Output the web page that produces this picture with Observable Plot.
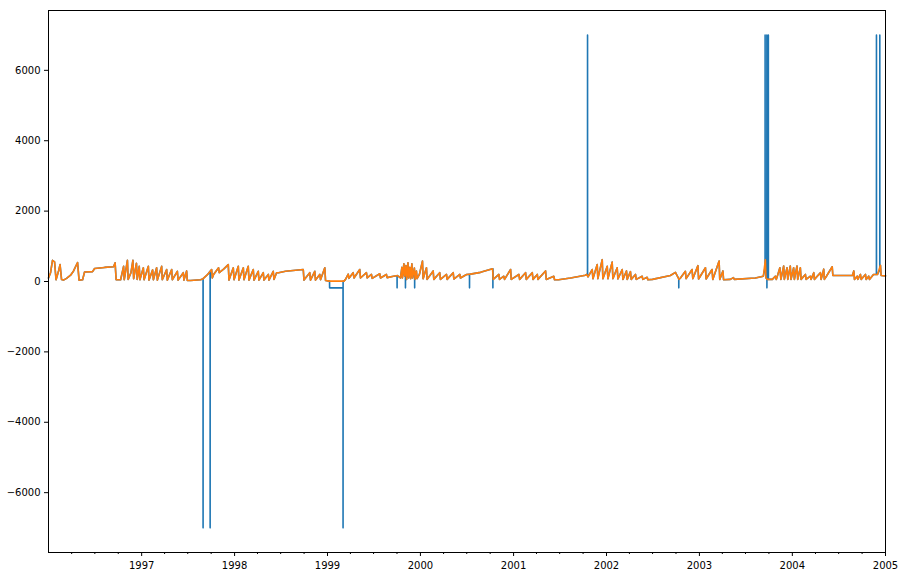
<!DOCTYPE html>
<html><head><meta charset="utf-8">
<script src="https://cdn.jsdelivr.net/npm/d3@7"></script>
<script src="https://cdn.jsdelivr.net/npm/@observablehq/plot@0.6"></script>
<style>body{margin:0;background:#fff}</style>
</head><body><div id="chart"></div>
<script>
// Cleaned series (orange): time as decimal year, value
const orangeT = [
1996.000,1996.022,1996.043,1996.065,1996.081,1996.108,1996.124,1996.140,1996.161,1996.194,1996.237,1996.269,1996.312,1996.328,1996.366,1996.387,1996.473,1996.495,1996.602,1996.699,1996.715,1996.726,1996.774,1996.806,1996.813,1996.847,1996.855,1996.885,1996.906,1996.914,1996.944,1996.952,1996.974,1996.981,
1997.018,1997.026,1997.072,1997.079,1997.118,1997.126,1997.161,1997.169,1997.215,1997.222,1997.269,1997.276,1997.323,1997.330,1997.384,1997.392,1997.448,1997.455,1997.484,1997.491,1997.527,1997.634,1997.656,1997.710,1997.753,1997.760,1997.774,1997.828,1997.835,1997.882,1997.932,1997.940,1997.986,1997.994,
1998.040,1998.047,1998.094,1998.101,1998.147,1998.155,1998.201,1998.209,1998.255,1998.262,1998.309,1998.316,1998.363,1998.370,1998.416,1998.424,1998.452,1998.473,1998.548,1998.739,1998.747,1998.809,1998.817,1998.863,1998.871,1998.917,1998.925,1998.971,1998.979,
1999.016,1999.177,1999.194,1999.223,1999.231,1999.276,1999.285,1999.347,1999.355,1999.419,1999.427,1999.473,1999.481,1999.562,1999.570,1999.634,1999.642,1999.710,1999.753,1999.785,1999.801,1999.806,1999.822,1999.830,1999.844,1999.851,1999.866,1999.873,1999.887,1999.895,1999.908,1999.916,1999.935,1999.943,1999.957,1999.964,1999.989,
2000.022,2000.029,2000.065,2000.072,2000.137,2000.144,2000.207,2000.215,2000.280,2000.287,2000.352,2000.359,2000.423,2000.430,2000.495,2000.538,2000.645,2000.774,2000.782,2000.842,2000.849,2000.895,2000.903,2000.968,2000.975,
2001.057,2001.065,2001.129,2001.137,2001.201,2001.209,2001.255,2001.262,2001.344,2001.352,2001.433,2001.441,2001.484,2001.613,2001.774,2001.785,2001.801,2001.846,2001.854,2001.900,2001.907,2001.954,2001.961,
2002.008,2002.015,2002.061,2002.069,2002.115,2002.123,2002.169,2002.177,2002.215,2002.223,2002.258,2002.266,2002.312,2002.320,2002.384,2002.391,2002.438,2002.445,2002.495,2002.688,2002.742,2002.753,2002.780,2002.796,2002.849,2002.857,2002.921,2002.929,2002.984,2002.991,
2003.065,2003.072,2003.136,2003.144,2003.212,2003.219,2003.253,2003.260,2003.333,2003.366,2003.376,2003.602,2003.688,2003.710,2003.716,2003.731,2003.763,2003.785,2003.817,2003.828,2003.866,2003.877,2003.907,2003.914,2003.943,2003.951,2003.978,2003.986,
2004.014,2004.022,2004.050,2004.058,2004.086,2004.094,2004.140,2004.148,2004.194,2004.201,2004.230,2004.237,2004.301,2004.309,2004.337,2004.344,2004.366,2004.428,2004.435,2004.645,2004.660,2004.667,2004.696,2004.703,2004.731,2004.739,2004.785,2004.792,2004.820,2004.828,2004.871,2004.914,2004.946,2004.953,2005.000
];
const orangeV = [
100,250,600,560,50,300,480,60,40,90,180,300,540,40,50,270,280,370,400,420,530,50,50,430,50,600,60,250,600,80,520,60,430,50,
390,50,430,40,330,50,390,40,430,50,340,40,340,50,290,40,250,40,300,30,30,50,70,200,340,100,200,390,250,350,480,40,390,50,
430,40,390,50,430,40,340,40,290,40,250,40,200,40,290,60,250,250,290,340,40,250,40,290,40,200,50,390,30,
10,10,60,210,90,250,100,340,100,250,100,200,90,220,100,200,110,150,170,100,400,100,500,150,450,60,530,100,400,80,500,100,380,60,300,80,200,
580,80,390,60,300,60,250,60,200,60,250,70,200,100,200,210,260,360,60,200,60,150,60,340,60,
200,60,250,60,250,60,200,60,300,60,150,50,50,100,180,200,130,340,80,480,80,620,80,
430,80,550,80,390,70,340,60,300,60,280,60,200,60,150,60,120,50,60,170,260,200,60,100,290,80,340,80,450,70,
390,70,340,60,580,60,300,50,60,110,60,100,150,620,100,60,60,60,150,60,390,60,440,60,390,60,440,60,
390,60,440,60,390,60,200,60,150,60,250,60,250,60,350,60,150,420,170,170,300,60,150,60,200,60,200,60,150,60,200,200,460,170,160
];

// Raw series (blue) = cleaned series plus these outlier points
const blueExtraT = [
1997.6605,1997.661,1997.6615,
1997.7365,1997.737,1997.7375,
1999.0220,1999.0225,1999.1670,1999.1675,1999.1680,
1999.7485,1999.749,1999.7495,
1999.8385,1999.839,1999.8395,
1999.9375,1999.938,1999.9385,
2000.5265,2000.527,2000.5275,
2000.7775,2000.778,2000.7785,
2001.7955,2001.796,2001.7965,
2002.7775,2002.778,2002.7785,
2003.7065,2003.707,2003.7075,
2003.7255,2003.726,2003.7265,2003.727,
2003.7415,2003.742,2003.7425,
2004.9025,2004.903,2004.9035,
2004.9385,2004.939,2004.9395
];
const blueExtraV = [
80,-7000,80,
290,-7000,290,
10,-180,-180,-7000,10,
165,-180,165,
300,-180,300,
200,-180,200,
205,-180,205,
360,-180,360,
190,7000,190,
80,-180,80,
400,7000,400,
80,7000,-180,80,
60,7000,60,
200,7000,200,
330,7000,330
];

const yTicks = [-6000,-4000,-2000,0,2000,4000,6000];
const xYears = [1997,1998,1999,2000,2001,2002,2003,2004,2005];
const yDomain = [-7700, 7700];
const xDomainYears = [1996, 2005];

function toDate(y) {
  const yr = Math.floor(y), f = y - yr;
  const s = Date.UTC(yr, 0, 1), e = Date.UTC(yr + 1, 0, 1);
  return new Date(s + f * (e - s));
}

const orange = orangeT.map((t, i) => ({date: toDate(t), value: orangeV[i]}));
const blue = orangeT.map((t, i) => ({t, v: orangeV[i]}))
  .concat(blueExtraT.map((t, i) => ({t, v: blueExtraV[i]})))
  .sort((a, b) => a.t - b.t)
  .map(d => ({date: toDate(d.t), value: d.v}));

const majorTicks = xYears.map(y => new Date(Date.UTC(y, 0, 1)));
const minorTicks = [];
for (let y = xDomainYears[0]; y < xDomainYears[1]; y++) for (const m of [3, 6, 9]) minorTicks.push(new Date(Date.UTC(y, m, 1)));

const chart = Plot.plot({
  width: 904, height: 578,
  marginLeft: 48, marginRight: 19, marginTop: 10, marginBottom: 26,
  style: {fontFamily: "DejaVu Sans", fontSize: "10px", color: "black", background: "white"},
  x: {type: "utc", domain: xDomainYears.map(y => toDate(y)), label: null},
  y: {domain: yDomain, label: null},
  marks: [
    Plot.line(blue, {x: "date", y: "value", stroke: "#1f77b4", strokeWidth: 1.6}),
    Plot.line(orange, {x: "date", y: "value", stroke: "#ff7f0e", strokeWidth: 1.6}),
    Plot.frame({stroke: "black", strokeWidth: 1}),
    Plot.axisY({ticks: yTicks, tickFormat: d3.format("d"), tickSize: 4, tickPadding: 4, label: null}),
    Plot.axisX({ticks: majorTicks, tickFormat: d3.utcFormat("%Y"), tickSize: 4, tickPadding: 5, label: null}),
    Plot.axisX({ticks: minorTicks, tickFormat: () => "", tickSize: 2, label: null})
  ]
});
document.getElementById("chart").appendChild(chart);
</script>
</body></html>
